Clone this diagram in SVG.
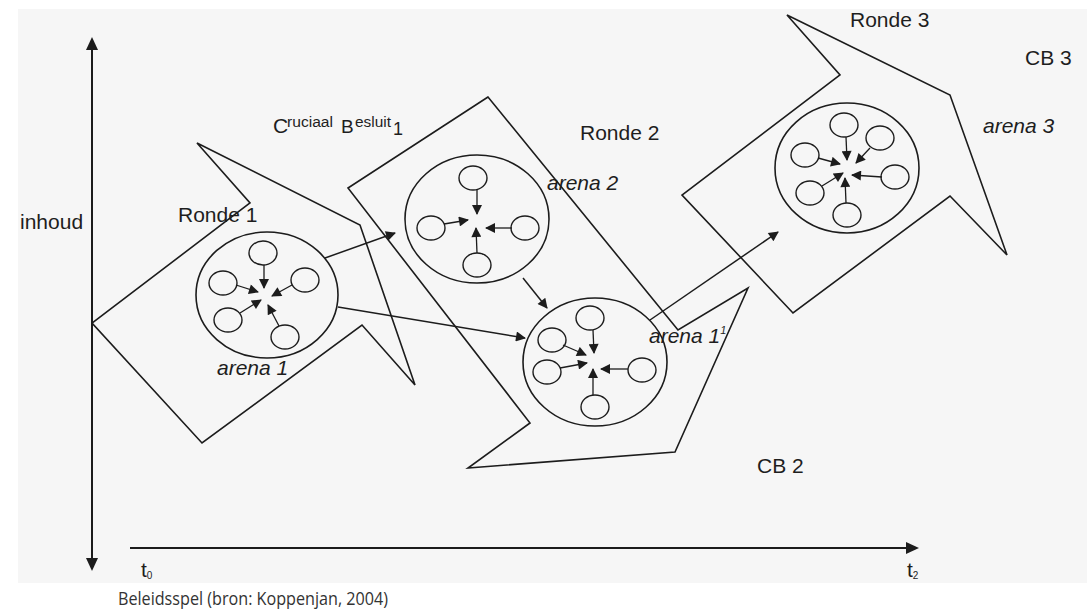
<svg xmlns="http://www.w3.org/2000/svg" width="1087" height="609" viewBox="0 0 1087 609">
  <defs>
    <marker id="ah" viewBox="0 0 10 10" refX="9" refY="5" markerWidth="11" markerHeight="10" markerUnits="userSpaceOnUse" orient="auto">
      <path d="M0,0 L10,5 L0,10 z" fill="#1c1c1c"/>
    </marker>
    <marker id="ahL" viewBox="0 0 10 10" refX="9" refY="5" markerWidth="13" markerHeight="10" markerUnits="userSpaceOnUse" orient="auto">
      <path d="M0,0 L10,5 L0,10 z" fill="#1c1c1c"/>
    </marker>
  </defs>
  <style>
    .shape { fill: none; stroke: #1c1c1c; stroke-width: 1.6; stroke-linejoin: miter; }
    .arena { fill: none; stroke: #1c1c1c; stroke-width: 1.6; }
    .actor { fill: none; stroke: #1c1c1c; stroke-width: 1.4; }
    .a { stroke: #1c1c1c; stroke-width: 1.3; fill: none; marker-end: url(#ah); }
    .c { stroke: #1c1c1c; stroke-width: 1.5; fill: none; marker-end: url(#ahL); }
    .axis { stroke: #1c1c1c; stroke-width: 2; fill: none; }
    .lbl { font-family: "Liberation Sans", Arial, sans-serif; font-size: 21px; fill: #1e1e1e; }
    .it { font-family: "Liberation Sans", Arial, sans-serif; font-size: 21px; font-style: italic; fill: #1e1e1e; }
    .cap { font-family: "Open Sans", "Noto Sans", sans-serif; font-size: 19px; fill: #333333; }
  </style>

  <rect x="0" y="0" width="1087" height="609" fill="#ffffff"/>
  <rect x="18" y="9" width="1069" height="574" fill="#f6f6f6"/>

  <g id="axes">
    <line class="axis" x1="92" y1="48" x2="92" y2="560"/>
    <path d="M92,37 L86,50 L98,50 z" fill="#1c1c1c"/>
    <path d="M92,571 L86,558 L98,558 z" fill="#1c1c1c"/>
    <line class="axis" x1="130" y1="548" x2="908" y2="548"/>
    <path d="M919,548 L906,542 L906,554 z" fill="#1c1c1c"/>
  </g>

  <g id="ronde1">
    <polygon class="shape" points="197,143 250,203 92,323 202,443 362,325 415,385 360,225"/>
  </g>
  <g id="ronde2">
    <polygon class="shape" points="488,97 348,188 530,423 468,468 675,452 748,288 678,330"/>
  </g>
  <g id="ronde3">
    <polygon class="shape" points="787,15 840,75 682,195 793,313 950,196 1007,255 950,95"/>
  </g>

  <g id="arena1">
    <ellipse class="arena" cx="267" cy="295" rx="71" ry="63"/>
    <ellipse class="actor" cx="263" cy="253" rx="14" ry="12"/>
    <ellipse class="actor" cx="223" cy="283" rx="14" ry="12"/>
    <ellipse class="actor" cx="305" cy="280" rx="14" ry="12"/>
    <ellipse class="actor" cx="228" cy="320" rx="14" ry="12"/>
    <ellipse class="actor" cx="285" cy="337" rx="14" ry="12"/>
    <line class="a" x1="264" y1="265" x2="264" y2="288"/>
    <line class="a" x1="236" y1="285" x2="258" y2="292"/>
    <line class="a" x1="292" y1="285" x2="272" y2="296"/>
    <line class="a" x1="240" y1="313" x2="261" y2="300"/>
    <line class="a" x1="279" y1="326" x2="268" y2="305"/>
  </g>

  <g id="arena2">
    <ellipse class="arena" cx="477" cy="219" rx="72" ry="64"/>
    <ellipse class="actor" cx="473" cy="178" rx="14" ry="12"/>
    <ellipse class="actor" cx="431" cy="228" rx="14" ry="12"/>
    <ellipse class="actor" cx="525" cy="228" rx="14" ry="12"/>
    <ellipse class="actor" cx="477" cy="265" rx="14" ry="12"/>
    <line class="a" x1="477" y1="190" x2="477" y2="214"/>
    <line class="a" x1="444" y1="224" x2="468" y2="220"/>
    <line class="a" x1="512" y1="228" x2="486" y2="228"/>
    <line class="a" x1="477" y1="253" x2="476" y2="228"/>
  </g>

  <g id="arena1b">
    <ellipse class="arena" cx="595" cy="362" rx="72" ry="64"/>
    <ellipse class="actor" cx="590" cy="318" rx="14" ry="12"/>
    <ellipse class="actor" cx="552" cy="340" rx="14" ry="12"/>
    <ellipse class="actor" cx="547" cy="372" rx="14" ry="12"/>
    <ellipse class="actor" cx="642" cy="370" rx="14" ry="12"/>
    <ellipse class="actor" cx="595" cy="407" rx="14" ry="12"/>
    <line class="a" x1="593" y1="330" x2="594" y2="353"/>
    <line class="a" x1="563" y1="345" x2="586" y2="355"/>
    <line class="a" x1="560" y1="368" x2="587" y2="363"/>
    <line class="a" x1="628" y1="369" x2="601" y2="369"/>
    <line class="a" x1="593" y1="395" x2="593" y2="369"/>
  </g>

  <g id="arena3">
    <ellipse class="arena" cx="847" cy="168" rx="72" ry="65"/>
    <ellipse class="actor" cx="844" cy="125" rx="14" ry="12"/>
    <ellipse class="actor" cx="880" cy="138" rx="14" ry="12"/>
    <ellipse class="actor" cx="805" cy="155" rx="14" ry="12"/>
    <ellipse class="actor" cx="895" cy="177" rx="14" ry="12"/>
    <ellipse class="actor" cx="810" cy="193" rx="14" ry="12"/>
    <ellipse class="actor" cx="847" cy="215" rx="14" ry="12"/>
    <line class="a" x1="846" y1="137" x2="847" y2="160"/>
    <line class="a" x1="870" y1="148" x2="856" y2="163"/>
    <line class="a" x1="818" y1="158" x2="840" y2="164"/>
    <line class="a" x1="882" y1="177" x2="852" y2="175"/>
    <line class="a" x1="822" y1="186" x2="843" y2="173"/>
    <line class="a" x1="846" y1="203" x2="845" y2="178"/>
  </g>

  <g id="connectors">
    <line class="c" x1="325" y1="258" x2="395" y2="233"/>
    <line class="c" x1="338" y1="307" x2="525" y2="338"/>
    <line class="c" x1="523" y1="278" x2="547" y2="308"/>
    <line class="c" x1="650" y1="320" x2="778" y2="232"/>
  </g>

  <g id="labels">
    <text class="lbl" x="20" y="229">inhoud</text>
    <text class="lbl" x="178" y="222">Ronde 1</text>
    <text class="lbl" x="580" y="140">Ronde 2</text>
    <text class="lbl" x="850" y="27">Ronde 3</text>
    <text class="lbl" x="1025" y="65">CB 3</text>
    <text class="lbl" x="757" y="473">CB 2</text>
    <text class="it" x="217" y="375">arena 1</text>
    <text class="it" x="547" y="190">arena 2</text>
    <text class="it" x="983" y="133">arena 3</text>
    <text class="it" x="649" y="343">arena 1<tspan font-size="11" dy="-9">1</tspan></text>
    <text class="lbl" x="273" y="133" font-size="19">C<tspan x="287" dy="-6" font-size="14" textLength="46" lengthAdjust="spacingAndGlyphs">ruciaal</tspan><tspan x="341" dy="6" font-size="19">B</tspan><tspan x="355" dy="-6" font-size="14" textLength="36" lengthAdjust="spacingAndGlyphs">esluit</tspan><tspan x="393" dy="8" font-size="18">1</tspan></text>
    <text class="lbl" x="141" y="577" font-size="14">t<tspan font-size="10" dy="2">0</tspan></text>
    <text class="lbl" x="907" y="577" font-size="14">t<tspan font-size="10" dy="2">2</tspan></text>
  </g>

  <text class="cap" x="118" y="605" textLength="270" lengthAdjust="spacingAndGlyphs">Beleidsspel (bron: Koppenjan, 2004)</text>
</svg>
